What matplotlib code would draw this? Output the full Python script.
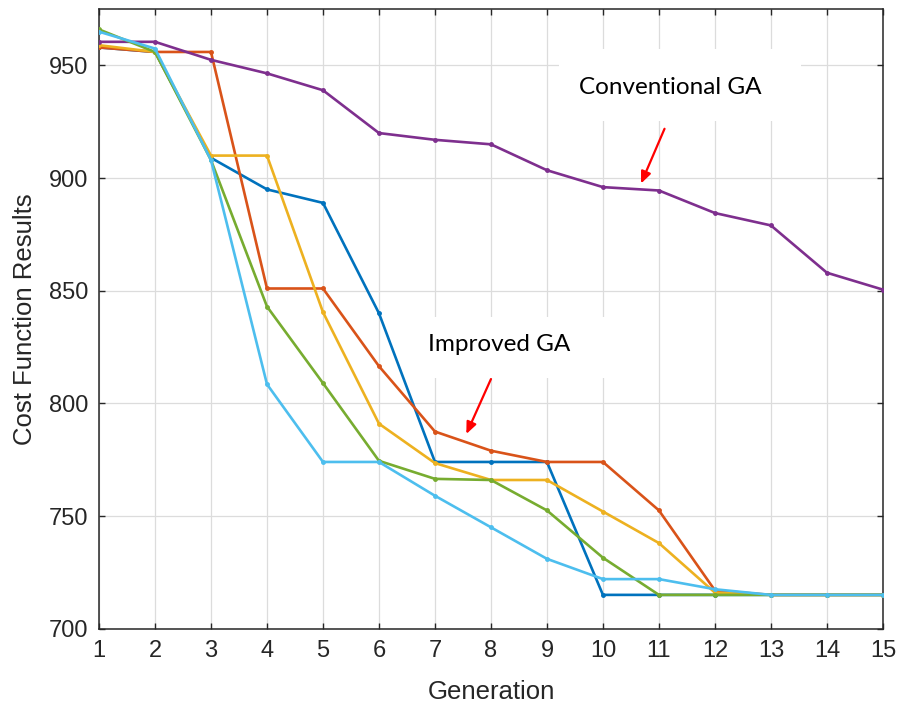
import matplotlib
matplotlib.use("Agg")
import matplotlib.pyplot as plt
from matplotlib.patches import Rectangle

# Cost per generation for five improved-GA runs and one conventional-GA run
generation = list(range(1, 16))
run_blue = [958, 956, 909, 895, 889, 840, 774, 774, 774, 715, 715, 715, 715, 715, 715]
run_orange = [958, 956, 956, 851, 851, 816.5, 787.5, 779, 774, 774, 752.5, 717, 715, 715, 715]
run_yellow = [959, 956, 910, 910, 840.5, 791, 773.5, 766, 766, 752, 738, 716, 715, 715, 715]
conventional = [960.5, 960.5, 952.5, 946.5, 939, 920, 917, 915, 903.5, 896, 894.5, 884.5, 879, 858, 850.5]
run_green = [966, 956, 908, 843, 809, 774.5, 766.5, 766, 752.5, 731.5, 715, 715, 715, 715, 715]
run_cyan = [965, 957.5, 908, 808.5, 774, 774, 759, 745, 731, 722, 722, 717.5, 715, 715, 715]

series = [
    (run_blue, "#0072BD"),
    (run_orange, "#D95319"),
    (run_yellow, "#EDB120"),
    (conventional, "#7E2F8E"),
    (run_green, "#77AC30"),
    (run_cyan, "#4DBEEE"),
]

x_ticks = list(range(1, 16))
y_ticks = [700, 750, 800, 850, 900, 950]

fig = plt.figure(figsize=(9.0, 7.04), dpi=100)
ax = fig.add_axes([0.110, 0.107, 0.871, 0.880])

for values, color in series:
    ax.plot(generation, values, color=color, lw=1.9, marker=".", ms=5, zorder=3)

ax.set_xlim(1, 15)
ax.set_ylim(700, 975)
ax.set_xticks(x_ticks)
ax.set_yticks(y_ticks)

axis_color = "#262626"
tick_font = {"family": "Liberation Sans", "size": 17}
ax.set_xticklabels([str(t) for t in x_ticks], **tick_font, color=axis_color)
ax.set_yticklabels([str(t) for t in y_ticks], **tick_font, color=axis_color)
ax.tick_params(direction="in", length=4.5, width=1.0, color=axis_color,
               top=True, right=True, pad=8)
for s in ax.spines.values():
    s.set_color(axis_color)
    s.set_linewidth(1.1)

ax.grid(True, color="#dcdcdc", lw=0.9, zorder=0)
ax.set_axisbelow(True)

label_font = {"family": "Liberation Sans", "size": 18.5, "color": "#262626"}
ax.set_xlabel("Generation", labelpad=13, **label_font)
ax.set_ylabel("Cost Function Results", labelpad=8, **label_font)

# White text panels over the grid, then the callout text and arrows
ax.add_patch(Rectangle((9.22, 925.2), 4.32, 32.0, facecolor="white",
                       edgecolor="none", zorder=1))
ax.add_patch(Rectangle((6.72, 811.4), 3.45, 27.1, facecolor="white",
                       edgecolor="none", zorder=1))

note_font = {"family": "Lato", "size": 17.5, "color": "black"}
arrow = dict(arrowstyle="-|>,head_length=0.7,head_width=0.3", color="red", lw=1.6,
             shrinkA=0, shrinkB=0)

ax.text(11.2, 940, "Conventional GA", ha="center", va="center", zorder=4, **note_font)
ax.annotate("", xy=(10.68, 897.6), xytext=(11.10, 921.9), arrowprops=arrow, zorder=5)

ax.text(8.14, 826, "Improved GA", ha="center", va="center", zorder=4, **note_font)
ax.annotate("", xy=(7.56, 786.4), xytext=(8.00, 810.8), arrowprops=arrow, zorder=5)

fig.savefig("out.png", dpi=100)
